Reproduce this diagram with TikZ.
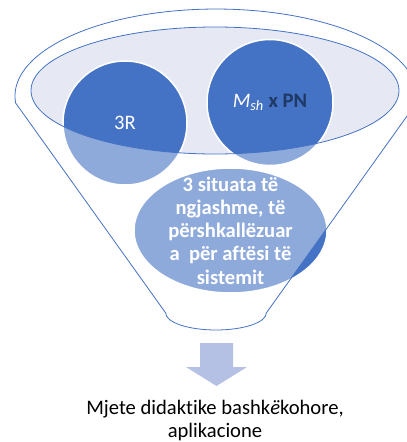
\documentclass[tikz,border=0pt]{standalone}
\usepackage{fontspec}
\setmainfont{Carlito}[Ligatures=NoCommon]
\usetikzlibrary{shapes.geometric}

\definecolor{funnelblue}{HTML}{4472C4}
\definecolor{mouthfill}{HTML}{E6E9F4}
\definecolor{arrowblue}{HTML}{B4C1E5}
\definecolor{navy}{HTML}{1F3864}
\newcommand{\fnfont}{\fontsize{20.6}{23.2}\selectfont}

\begin{document}
\begin{tikzpicture}[
    x=1pt, y=-1pt,
    % Define node styles
    ball/.style={
        circle,
        draw=white,
        line width=1.5pt,
        fill=funnelblue,
        minimum size=124pt,
        inner sep=0pt,
        text=white,
        font=\fnfont
    },
    bubble/.style={
        ellipse,
        draw=white,
        line width=1.5pt,
        fill=funnelblue,
        minimum width=193pt,
        minimum height=125pt,
        inner sep=0pt
    },
    bubbletext/.style={
        align=center,
        text=white,
        font=\fnfont\bfseries
    },
    caption/.style={
        align=center,
        font=\fnfont
    },
    veil/.style={
        draw=funnelblue,
        line width=0.8pt,
        fill=white,
        fill opacity=0.4,
        even odd rule
    },
    pointer/.style={fill=arrowblue}
]
    \useasboundingbox (0,0) rectangle (407,442);

    % Mouth of the funnel
    \coordinate (mouth) at (215,90.5);
    \fill[mouthfill] (mouth) ellipse [x radius=184, y radius=63.5];

    % Circles in the mouth
    \node[ball] (tri) at (125,123) {3R};
    \node[ball, minimum size=126pt] (msh) at (270,102.5)
        {\textit{M}\textsubscript{\textit{sh}} \textcolor{navy}{\textbf{x PN}}};

    % Ellipse at the neck
    \node[bubble] (sit) at (230.5,230.5) {};
    \node[bubbletext] (sittext) at (sit)
        {3 situata të\\ngjashme, të\\përshkallëzuar\\a~ për aftësi të\\sistemit};

    % Funnel body (washes out what lies under it)
    \path[veil] (15.65,103) arc[start angle=175.4, end angle=364.6, x radius=201, y radius=87]
        -- (266.3,313) arc[start angle=0, end angle=180, x radius=50.3, y radius=17]
        -- cycle
        (mouth) ellipse [x radius=184, y radius=63.5];

    % Output arrow and text
    \fill[pointer] (200,343) -- (233,343) -- (233,367) -- (247,367)
        -- (216.5,386) -- (186,367) -- (200,367) -- cycle;
    \node[caption] (tools) at (215,420.5)
        {Mjete didaktike bashk\textit{ë}kohore,\\aplikacione};
\end{tikzpicture}
\end{document}
